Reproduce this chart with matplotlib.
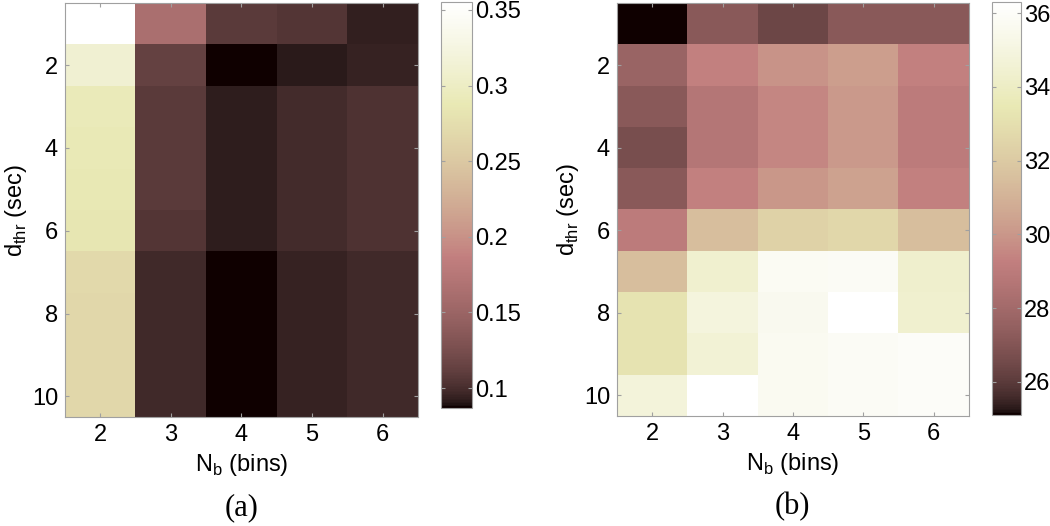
import numpy as np
import matplotlib
matplotlib.use('Agg')
import matplotlib.pyplot as plt
from matplotlib.colors import ListedColormap

plt.rcParams.update({'font.size': 17, 'font.family': 'Liberation Sans'})

# matlab 'pink' colormap
def matlab_pink(m=256):
    n = int(3 * m / 8)
    r = np.concatenate([np.arange(1, n + 1) / n, np.ones(m - n)])
    g = np.concatenate([np.zeros(n), np.arange(1, n + 1) / n, np.ones(m - 2 * n)])
    b = np.concatenate([np.zeros(2 * n), np.arange(1, m - 2 * n + 1) / (m - 2 * n)])
    hot = np.stack([r, g, b], axis=1)
    gray = np.linspace(0, 1, m)[:, None]
    return ListedColormap(np.sqrt((2 * gray + hot) / 3))

pink = matlab_pink()

#%%
nb_bins = [2, 3, 4, 5, 6]
d_thr = [1, 2, 3, 4, 5, 6, 7, 8, 9, 10]

# panel (a): rows = d_thr, cols = N_b
vals_a = np.array([
    [0.355, 0.164, 0.108, 0.105, 0.094],
    [0.312, 0.114, 0.087, 0.092, 0.095],
    [0.292, 0.108, 0.093, 0.099, 0.103],
    [0.290, 0.108, 0.093, 0.099, 0.103],
    [0.288, 0.108, 0.093, 0.099, 0.103],
    [0.285, 0.105, 0.093, 0.099, 0.103],
    [0.270, 0.098, 0.087, 0.095, 0.098],
    [0.268, 0.098, 0.087, 0.095, 0.098],
    [0.267, 0.098, 0.087, 0.095, 0.098],
    [0.267, 0.098, 0.087, 0.095, 0.098],
])

# panel (b)
vals_b = np.array([
    [25.1, 27.2, 26.4, 27.2, 27.2],
    [27.7, 29.3, 29.9, 30.3, 29.3],
    [27.2, 28.7, 29.5, 30.1, 29.0],
    [26.7, 28.7, 29.5, 30.1, 29.0],
    [27.2, 29.3, 30.0, 30.4, 29.3],
    [29.0, 31.5, 32.4, 32.6, 31.5],
    [31.5, 34.4, 35.8, 35.9, 34.3],
    [33.2, 34.9, 35.6, 36.3, 34.4],
    [33.2, 34.6, 35.7, 35.9, 36.0],
    [34.8, 36.3, 35.7, 35.9, 36.0],
])

lim_a = (0.0868, 0.3553)
lim_b = (25.1, 36.3)
cb_ticks_a = [0.1, 0.15, 0.2, 0.25, 0.3, 0.35]
cb_ticks_b = [26, 28, 30, 32, 34, 36]

#%%
fig = plt.figure(figsize=(10.5, 5.26), dpi=100)
edge = '#a0a0a0'

def heat_panel(ax_rect, cb_rect, vals, lims, cb_ticks, letter):
    ax = fig.add_axes(ax_rect)
    ext = [nb_bins[0] - 0.5, nb_bins[-1] + 0.5, d_thr[-1] + 0.5, d_thr[0] - 0.5]
    im = ax.imshow(vals, cmap=pink, vmin=lims[0], vmax=lims[1], extent=ext,
                   aspect='auto', interpolation='nearest')
    ax.set_xticks(nb_bins)
    ax.set_yticks([2, 4, 6, 8, 10])
    ax.tick_params(direction='in', length=3, color=edge, top=True, right=True,
                   labelsize=17, pad=5)
    for s in ax.spines.values():
        s.set_color(edge)
    ax.set_xlabel('N$_\\mathregular{b}$ (bins)', fontsize=17, labelpad=4)
    ax.set_ylabel('d$_\\mathregular{thr}$ (sec)', fontsize=17, labelpad=2)
    ax.text(0.5, -0.218, letter, transform=ax.transAxes, ha='center', va='center',
            fontsize=22, family='Liberation Serif')

    cax = fig.add_axes(cb_rect)
    cb = fig.colorbar(im, cax=cax, ticks=cb_ticks)
    cb.outline.set_edgecolor(edge)
    cax.tick_params(direction='in', length=3, color=edge, labelsize=17,
                    left=True, pad=2)
    cb.ax.set_yticklabels([f'{t:g}' for t in cb_ticks])
    return ax

heat_panel([0.0619, 0.2072, 0.336, 0.787], [0.420, 0.2243, 0.0295, 0.772],
           vals_a, lim_a, cb_ticks_a, '(a)')
heat_panel([0.5876, 0.209, 0.335, 0.785], [0.9448, 0.211, 0.0276, 0.785],
           vals_b, lim_b, cb_ticks_b, '(b)')

fig.savefig('out.png', dpi=100, facecolor='w')
